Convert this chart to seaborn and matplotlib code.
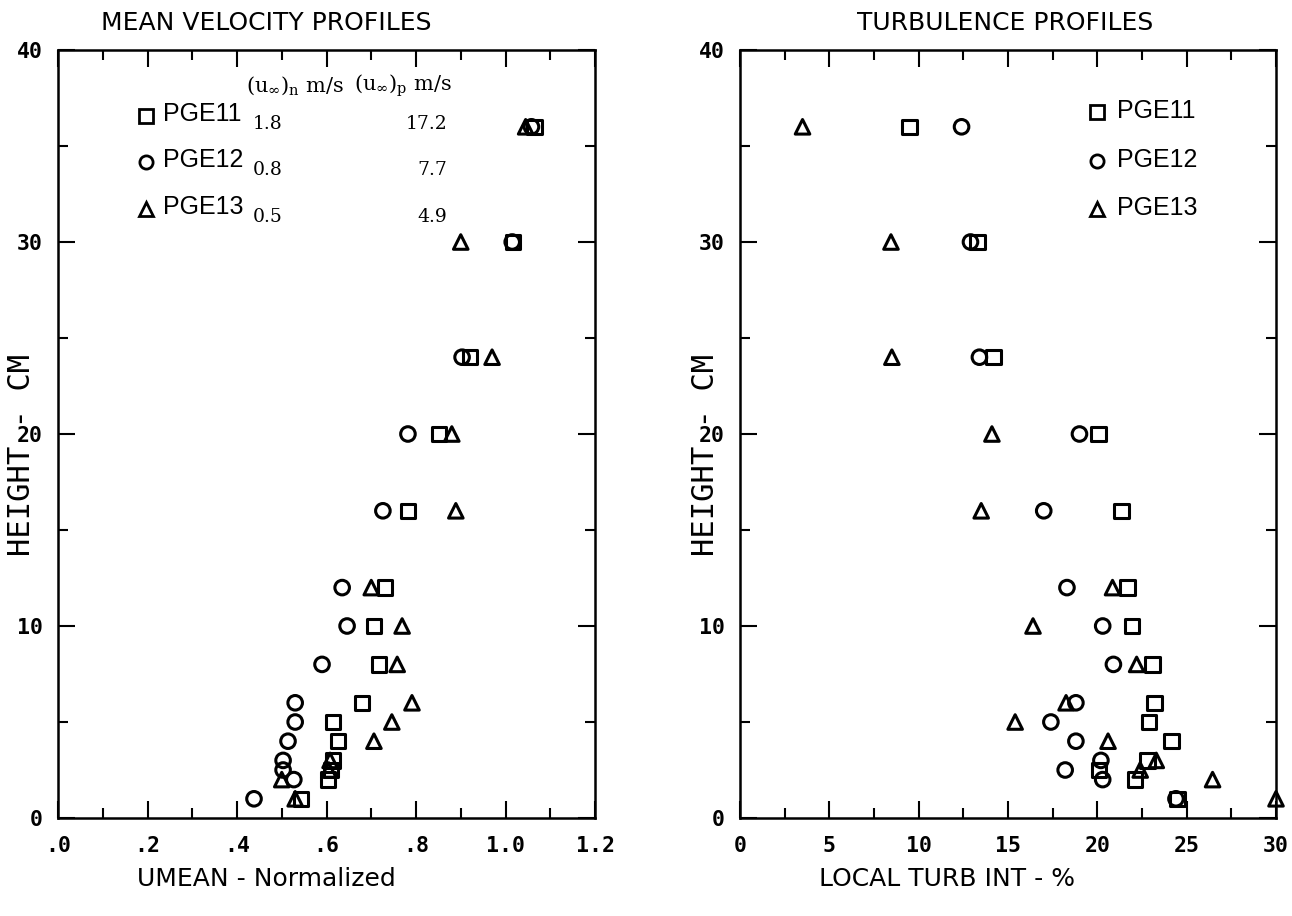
import matplotlib
matplotlib.use("Agg")
import matplotlib.pyplot as plt
import pandas as pd
import seaborn as sns
from matplotlib.ticker import FixedLocator, MultipleLocator

# Measurement heights above the floor (cm)
heights = [1, 2, 2.5, 3, 4, 5, 6, 8, 10, 12, 16, 20, 24, 30, 36]

# Normalized mean velocity for each run
umean_pge11 = [0.543, 0.603, 0.61, 0.615, 0.626, 0.615, 0.679, 0.717, 0.706, 0.731, 0.782, 0.851, 0.921, 1.017, 1.065]
umean_pge12 = [0.438, 0.527, 0.503, 0.503, 0.514, 0.53, 0.53, 0.59, 0.646, 0.635, 0.726, 0.782, 0.903, 1.015, 1.058]
umean_pge13 = [0.53, 0.50, 0.605, 0.608, 0.706, 0.746, 0.791, 0.758, 0.769, 0.70, 0.889, 0.88, 0.97, 0.90, 1.045]

# Local turbulence intensity (%) for each run
turb_pge11 = [24.5, 22.1, 20.1, 22.8, 24.15, 22.9, 23.2, 23.1, 21.95, 21.7, 21.35, 20.05, 14.2, 13.3, 9.5]
turb_pge12 = [24.4, 20.3, 18.2, 20.2, 18.8, 17.4, 18.8, 20.9, 20.3, 18.3, 17.0, 19.0, 13.4, 12.9, 12.4]
turb_pge13 = [30.0, 26.45, 22.4, 23.3, 20.6, 15.4, 18.25, 22.2, 16.4, 20.85, 13.5, 14.1, 8.5, 8.45, 3.5]

runs = ["PGE11", "PGE12", "PGE13"]
run_markers = {"PGE11": "s", "PGE12": "o", "PGE13": "^"}
u_inf_n = ["1.8", "0.8", "0.5"]
u_inf_p = ["17.2", "7.7", "4.9"]

vel_ticks = [0.0, 0.2, 0.4, 0.6, 0.8, 1.0, 1.2]
vel_tick_labels = [".0", ".2", ".4", ".6", ".8", "1.0", "1.2"]
turb_ticks = [0, 5, 10, 15, 20, 25, 30]
turb_tick_labels = ["0", "5", "10", "15", "20", "25", "30"]
height_ticks = [0, 10, 20, 30, 40]
height_tick_labels = ["0", "10", "20", "30", "40"]

umean = {"PGE11": umean_pge11, "PGE12": umean_pge12, "PGE13": umean_pge13}
turb = {"PGE11": turb_pge11, "PGE12": turb_pge12, "PGE13": turb_pge13}
df = pd.concat(
    [pd.DataFrame({"run": r, "height": heights, "umean": umean[r], "turb": turb[r]}) for r in runs],
    ignore_index=True,
)

sns.set_style("ticks")
plt.rcParams.update({
    "font.family": ["DejaVu Sans", "DejaVu Sans Mono"],
    "axes.linewidth": 1.8,
    "axes.edgecolor": "black",
    "text.color": "black",
})

W, H = 1292, 916
fig = plt.figure(figsize=(W / 100, H / 100), dpi=100)
ax_l = fig.add_axes([58 / W, 1 - 818 / H, 537 / W, 768 / H])
ax_r = fig.add_axes([740 / W, 1 - 818 / H, 536 / W, 768 / H])

TICK_FONT = dict(family=["DejaVu Sans Mono", "DejaVu Sans"], weight="bold", size=15.5)


def draw_profiles(ax, xcol):
    sns.scatterplot(
        data=df, x=xcol, y="height", style="run", markers=run_markers,
        s=110, color="black", edgecolor="black", linewidth=2.2,
        legend=False, ax=ax, clip_on=False,
    )
    for coll in ax.collections:
        coll.set_facecolor("none")
        coll.set_edgecolor("black")
    ax.set_xlabel("")
    ax.set_ylabel("")
    ax.set_ylim(0, 40)
    ax.yaxis.set_major_locator(FixedLocator(height_ticks))
    ax.set_yticklabels(height_tick_labels, fontdict=TICK_FONT)
    ax.yaxis.set_minor_locator(MultipleLocator(5))
    ax.tick_params(which="both", direction="in", top=True, right=True, width=1.5, colors="black")
    ax.tick_params(which="major", length=12, pad=11)
    ax.tick_params(which="minor", length=7)
    ax.tick_params(axis="x", which="major", pad=13)
    for sp in ax.spines.values():
        sp.set_linewidth(1.8)


draw_profiles(ax_l, "umean")
ax_l.set_xlim(0, 1.2)
ax_l.xaxis.set_major_locator(FixedLocator(vel_ticks))
ax_l.set_xticklabels(vel_tick_labels, fontdict=TICK_FONT)
ax_l.xaxis.set_minor_locator(MultipleLocator(0.1))

draw_profiles(ax_r, "turb")
ax_r.set_xlim(0, 30)
ax_r.xaxis.set_major_locator(FixedLocator(turb_ticks))
ax_r.set_xticklabels(turb_tick_labels, fontdict=TICK_FONT)
ax_r.xaxis.set_minor_locator(MultipleLocator(2.5))

# Titles, axis labels
label_font = dict(family=["DejaVu Sans", "DejaVu Sans Mono"], size=18, color="black")
fig.text(266 / W, 1 - 23 / H, "MEAN VELOCITY PROFILES", ha="center", va="center", **label_font)
fig.text(1005 / W, 1 - 23 / H, "TURBULENCE PROFILES", ha="center", va="center", **label_font)
fig.text(266 / W, 1 - 879 / H, "UMEAN - Normalized", ha="center", va="center", **label_font)
fig.text(947 / W, 1 - 879 / H, "LOCAL TURB INT - %", ha="center", va="center", **label_font)
for xpix in (22, 706):
    fig.text(xpix / W, 1 - 455 / H, "HEIGHT - CM", ha="center", va="center",
             rotation=90, family=["DejaVu Sans Mono", "DejaVu Sans"], size=22, color="black")

# Run keys
key_font = dict(family=["Liberation Sans Narrow", "Liberation Sans", "DejaVu Sans"], size=18, color="black")
num_font = dict(family=["DejaVu Serif", "Liberation Serif"], size=13.5, color="black")
head_font = dict(family=["DejaVu Serif", "Liberation Serif"], size=15, color="black")


def px_to_axes(ax, xp, yp):
    pos = ax.get_position()
    x0 = pos.x0 * W
    y0 = (1 - pos.y1) * H
    return (xp - x0) / (pos.width * W), 1 - (yp - y0) / (pos.height * H)


left_rows = [116, 162, 209]
for r, yp, un, up in zip(runs, left_rows, u_inf_n, u_inf_p):
    mx, my = px_to_axes(ax_l, 146, yp)
    ax_l.plot([mx], [my], marker=run_markers[r], ms=9.5, mfc="none", mec="black", mew=2,
              transform=ax_l.transAxes, clip_on=False)
    tx, ty = px_to_axes(ax_l, 163, yp - 2)
    ax_l.text(tx, ty, r, ha="left", va="center", transform=ax_l.transAxes, **key_font)
    nx, ny = px_to_axes(ax_l, 268, yp + 8)
    ax_l.text(nx, ny, un, ha="center", va="center", transform=ax_l.transAxes, **num_font)
    px_, py_ = px_to_axes(ax_l, 447, yp + 8)
    ax_l.text(px_, py_, up, ha="right", va="center", transform=ax_l.transAxes, **num_font)

hx, hy = px_to_axes(ax_l, 246, 86)
ax_l.text(hx, hy, r"$\mathregular{(u_{\infty})_{n}}$ m/s", ha="left", va="center",
          transform=ax_l.transAxes, **head_font)
hx, hy = px_to_axes(ax_l, 354, 86)
ax_l.text(hx, hy, r"$\mathregular{(u_{\infty})_{p}}$ m/s", ha="left", va="center",
          transform=ax_l.transAxes, **head_font)

right_rows = [112, 161, 209]
for r, yp in zip(runs, right_rows):
    mx, my = px_to_axes(ax_r, 1097, yp)
    ax_r.plot([mx], [my], marker=run_markers[r], ms=9.5, mfc="none", mec="black", mew=2,
              transform=ax_r.transAxes, clip_on=False)
    tx, ty = px_to_axes(ax_r, 1117, yp - 1)
    ax_r.text(tx, ty, r, ha="left", va="center", transform=ax_r.transAxes, **key_font)

fig.savefig("out.png", dpi=100, facecolor="white")
